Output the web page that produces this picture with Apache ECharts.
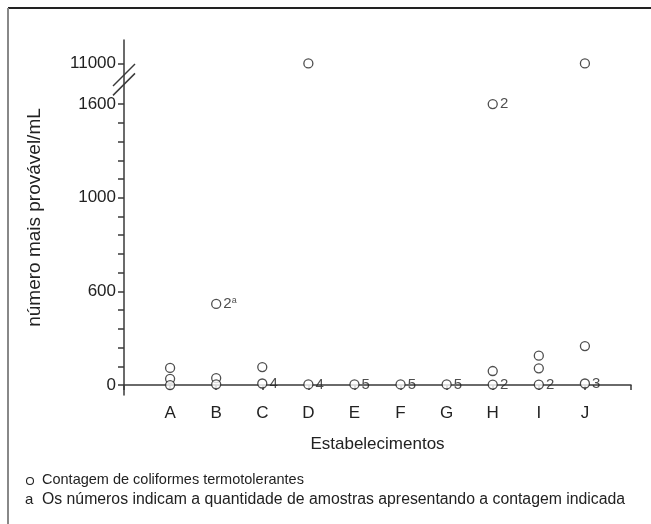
<!DOCTYPE html>
<html>
<head>
<meta charset="utf-8">
<script src="https://cdn.jsdelivr.net/npm/echarts@6/dist/echarts.min.js"></script>
<style>
  html, body { margin: 0; padding: 0; background: #fff; }
  #chart { width: 651px; height: 524px; }
</style>
</head>
<body>
<div id="chart"></div>
<script>
const estabelecimentos = ['A', 'B', 'C', 'D', 'E', 'F', 'G', 'H', 'I', 'J']

// one entry per plotted circle
const pontoEstab = ['A', 'A', 'A', 'B', 'B', 'B', 'C', 'C', 'D', 'D', 'E', 'F', 'G', 'H', 'H', 'H', 'I', 'I', 'I', 'J', 'J', 'J']
const pontoValor = [110, 40, 0, 520, 45, 5, 115, 10, 11000, 4, 4, 4, 4, 1600, 90, 3, 188, 107, 3, 11000, 250, 10]
const pontoRotulo = ['', '', '', '2|a', '', '', '', '4', '', '4', '5', '5', '5', '2', '', '2', '', '', '2', '', '', '3']

// y axis is drawn in equal steps between these labelled values, broken above 1600
const yLabelValues = [0, 600, 1000, 1600, 11000]
const yLabelTexts = ['0', '600', '1000', '1600', '11000']
const yLabelPos = [0, 5, 10, 15, 17.17]

const nota1 = 'Contagem de coliformes termotolerantes'
const nota2 = 'Os números indicam a quantidade de amostras apresentando a contagem indicada'

const toAxis = (v) => {
  for (let i = 1; i < yLabelValues.length; i++) {
    if (v <= yLabelValues[i]) {
      const [v0, v1] = [yLabelValues[i - 1], yLabelValues[i]]
      const [p0, p1] = [yLabelPos[i - 1], yLabelPos[i]]
      return p0 + (v - v0) / (v1 - v0) * (p1 - p0)
    }
  }
  return yLabelPos[yLabelPos.length - 1]
}

const seriesData = pontoValor.map((v, i) => ({
  value: [estabelecimentos.indexOf(pontoEstab[i]) + 1, toAxis(v)],
  label: { formatter: pontoRotulo[i].replace('|a', '{sup|a}') }
}))

const axisColor = '#3a3a3a'
const font = 'Liberation Sans, Arial, sans-serif'

const chart = echarts.init(document.getElementById('chart'))

const option = {
  animation: false,
  grid: { left: 124, right: 20, top: 40, bottom: 129 },
  xAxis: {
    type: 'value',
    min: 0,
    max: 11,
    interval: 1,
    name: 'Estabelecimentos',
    nameLocation: 'middle',
    nameGap: 41,
    nameTextStyle: { fontFamily: font, fontSize: 17, color: '#222' },
    axisLine: { lineStyle: { color: axisColor, width: 1.5 } },
    axisTick: { length: 5, lineStyle: { color: axisColor, width: 1.5 } },
    axisLabel: {
      fontFamily: font, fontSize: 17, color: '#222', margin: 10,
      formatter: (v) => estabelecimentos[v - 1] || ''
    },
    splitLine: { show: false }
  },
  yAxis: {
    type: 'value',
    min: -0.53,
    max: 18.42,
    name: 'número mais provável/mL',
    nameLocation: 'middle',
    nameRotate: 90,
    nameGap: 80,
    nameTextStyle: { fontFamily: font, fontSize: 19, color: '#222' },
    axisLine: { lineStyle: { color: axisColor, width: 1.5 } },
    axisTick: {
      length: 6,
      lineStyle: { color: axisColor, width: 1.5 },
      customValues: [0, 1, 2, 3, 4, 5, 6, 7, 8, 9, 10, 11, 12, 13, 14, 15, 17.17]
    },
    axisLabel: {
      fontFamily: font, fontSize: 17, color: '#222', margin: 8,
      customValues: yLabelPos,
      formatter: (v) => {
        const i = yLabelPos.findIndex(p => Math.abs(p - v) < 0.01)
        return i >= 0 ? yLabelTexts[i] : ''
      }
    },
    splitLine: { show: false }
  },
  series: [{
    type: 'scatter',
    data: seriesData,
    symbol: 'circle',
    symbolSize: 9,
    itemStyle: { color: '#fff', borderColor: '#222', borderWidth: 1.3 },
    label: {
      show: true,
      position: 'right',
      distance: 2,
      fontFamily: font,
      fontSize: 15,
      color: '#222',
      rich: { sup: { fontSize: 9, verticalAlign: 'top', padding: [0, 0, 6, 0], color: '#222' } }
    }
  }]
}

chart.setOption(option)

// axis break marks and the footnotes
const [ax, yUp] = chart.convertToPixel({ gridIndex: 0 }, [0, 16.55])
const yLo = chart.convertToPixel({ gridIndex: 0 }, [0, 16.05])[1]
const slash = (cy) => ({
  type: 'line',
  shape: { x1: ax - 11, y1: cy + 11, x2: ax + 11, y2: cy - 11 },
  style: { stroke: axisColor, lineWidth: 1.5 }
})

chart.setOption({
  graphic: [
    { type: 'rect', shape: { x: ax - 3, y: yUp - 2, width: 6, height: yLo - yUp + 4 }, style: { fill: '#fff' } },
    slash(yUp),
    slash(yLo),
    // outer frame
    { type: 'line', shape: { x1: 8, y1: 8, x2: 651, y2: 8 }, style: { stroke: '#222', lineWidth: 2 } },
    { type: 'line', shape: { x1: 8, y1: 8, x2: 8, y2: 524 }, style: { stroke: '#888', lineWidth: 2 } },
    // footnotes
    { type: 'circle', shape: { cx: 30, cy: 481, r: 3.5 }, style: { fill: '#fff', stroke: '#222', lineWidth: 1.1 } },
    { type: 'text', x: 42, y: 472, style: { text: nota1, font: '14.5px ' + font, fill: '#222' } },
    { type: 'text', x: 25, y: 492, style: { text: 'a', font: '15px ' + font, fill: '#222' } },
    { type: 'text', x: 42, y: 492, style: { text: nota2, font: '15.8px ' + font, fill: '#222' } }
  ]
})
</script>
</body>
</html>
